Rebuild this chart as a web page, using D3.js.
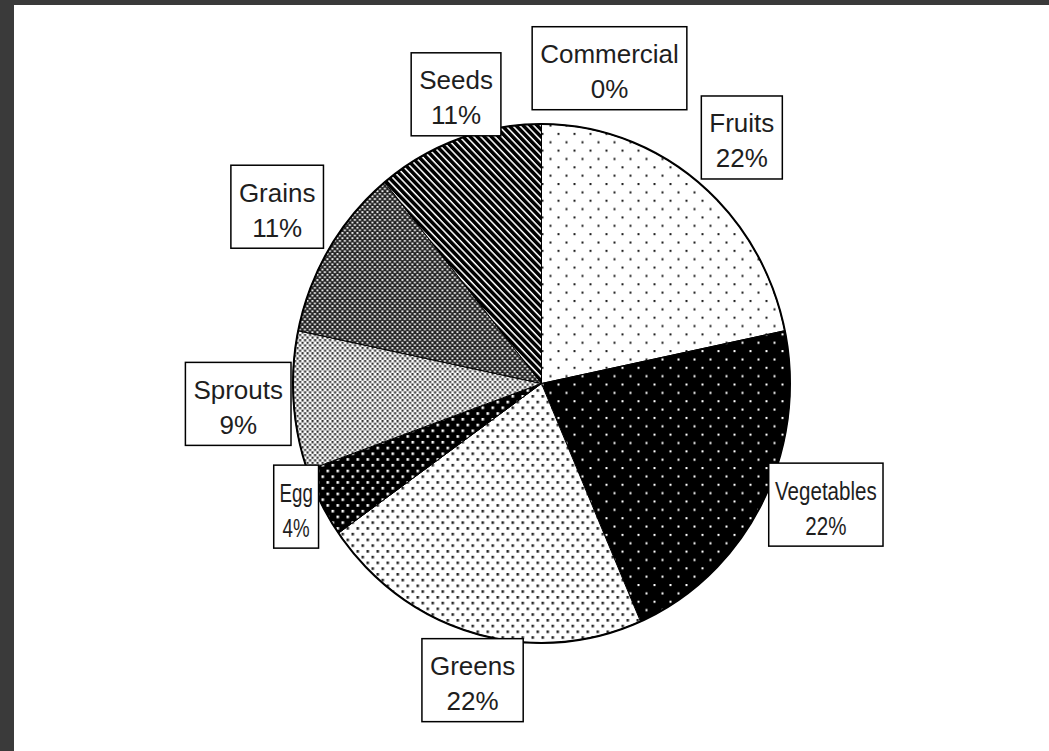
<!DOCTYPE html>
<html>
<head>
<meta charset="utf-8">
<script src="https://cdn.jsdelivr.net/npm/d3@7"></script>
<style>
  body { margin: 0; background: #3a3a3a; }
  svg { display: block; }
</style>
</head>
<body>
<div id="chart"></div>
<script>
const width = 1049;
const height = 751;

// chart data, clockwise from 12 o'clock
const categories = ["Fruits", "Vegetables", "Greens", "Egg", "Sprouts", "Grains", "Seeds", "Commercial"];
const counts = [10, 10, 10, 2, 4, 5, 5, 0];
const patternIds = ["p-fruits", "p-veg", "p-greens", "p-egg", "p-sprouts", "p-grains", "p-seeds", "p-none"];

// label box shifts from their default spot on the label ring, and text squeeze (layout only)
const labelNudge = [[11, -3], [18, -23], [12, -5], [21, -21], [-4, -1], [-8, -14], [15, 6], [68, -2]];
const labelSqueeze = [1, 0.79, 1, 0.72, 1, 1, 1, 1];

const cx = 541.5, cy = 383.5;
const rx = 248.5, ry = 259.5;
const sy = ry / rx;

const svg = d3.select("#chart").append("svg")
    .attr("width", width).attr("height", height);

// dark frame at left and top, white page
svg.append("rect").attr("width", width).attr("height", height).attr("fill", "#3a3a3a");
svg.append("rect").attr("x", 14).attr("y", 5).attr("width", width - 14).attr("height", height - 5).attr("fill", "#fff");

const defs = svg.append("defs");

function dotPattern(id, w, h, bg, fg, size) {
    const p = defs.append("pattern").attr("id", id)
        .attr("patternUnits", "userSpaceOnUse")
        .attr("width", w).attr("height", h);
    p.append("rect").attr("width", w).attr("height", h).attr("fill", bg);
    p.append("rect").attr("x", 0).attr("y", 0).attr("width", size).attr("height", size).attr("fill", fg);
    p.append("rect").attr("x", w / 2).attr("y", h / 2).attr("width", size).attr("height", size).attr("fill", fg);
}

dotPattern("p-fruits", 16, 16, "#fff", "#222", 2);
dotPattern("p-veg", 16, 16, "#000", "#fff", 2);
dotPattern("p-greens", 10, 11, "#fff", "#222", 2.5);
dotPattern("p-egg", 10, 11, "#000", "#fff", 2.5);
dotPattern("p-sprouts", 5, 5, "#fff", "#333", 2.2);
dotPattern("p-grains", 5, 5, "#222", "#fff", 1.8);
dotPattern("p-none", 4, 4, "#fff", "#fff", 1);

const stripes = defs.append("pattern").attr("id", "p-seeds")
    .attr("patternUnits", "userSpaceOnUse")
    .attr("width", 5).attr("height", 5)
    .attr("patternTransform", "rotate(45)");
stripes.append("rect").attr("width", 5).attr("height", 5).attr("fill", "#000");
stripes.append("rect").attr("y", 0).attr("width", 5).attr("height", 1.5).attr("fill", "#fff");

const pie = d3.pie().sort(null).value(d => d.value);
const arcs = pie(categories.map((c, i) => ({ name: c, value: counts[i], pattern: patternIds[i] })));
const total = d3.sum(counts);

const arc = d3.arc().innerRadius(0).outerRadius(rx);
const labelArc = d3.arc().innerRadius(300).outerRadius(300);

const pieGroup = svg.append("g")
    .attr("transform", `translate(${cx},${cy}) scale(1,${sy})`);

pieGroup.selectAll("path.slice")
    .data(arcs.filter(d => d.data.value > 0))
    .enter()
    .append("path")
    .attr("class", "slice")
    .attr("d", arc)
    .attr("fill", d => `url(#${d.data.pattern})`)
    .attr("stroke", "#000")
    .attr("stroke-width", 1)
    .attr("vector-effect", "non-scaling-stroke");

pieGroup.append("circle")
    .attr("r", rx)
    .attr("fill", "none")
    .attr("stroke", "#000")
    .attr("stroke-width", 2)
    .attr("vector-effect", "non-scaling-stroke");

// labels
const labelGroup = svg.append("g")
    .style("font-family", "'Liberation Sans', Arial, sans-serif")
    .style("font-size", "26px")
    .attr("fill", "#1e1e1e");

arcs.forEach((d, i) => {
    const c = labelArc.centroid(d);
    const lx = cx + c[0] + labelNudge[i][0];
    const ly = cy + c[1] * sy + labelNudge[i][1];
    const pct = Math.round(d.data.value / total * 100) + "%";
    const k = labelSqueeze[i];

    const g = labelGroup.append("g").attr("transform", `translate(${lx},${ly})`);
    const box = g.append("rect");
    const t1 = g.append("text").attr("text-anchor", "middle").attr("y", -5).text(d.data.name);
    const t2 = g.append("text").attr("text-anchor", "middle").attr("y", 30).text(pct);

    let w = 0;
    [t1, t2].forEach(t => {
        const len = t.node().getComputedTextLength() * k;
        if (k !== 1) t.attr("textLength", len).attr("lengthAdjust", "spacingAndGlyphs");
        w = Math.max(w, len);
    });
    w += 16 * k;
    const h = 83;
    box.attr("x", -w / 2).attr("y", -h / 2)
        .attr("width", w).attr("height", h)
        .attr("fill", "#fff")
        .attr("stroke", "#000")
        .attr("stroke-width", 1.5);
});
</script>
</body>
</html>
